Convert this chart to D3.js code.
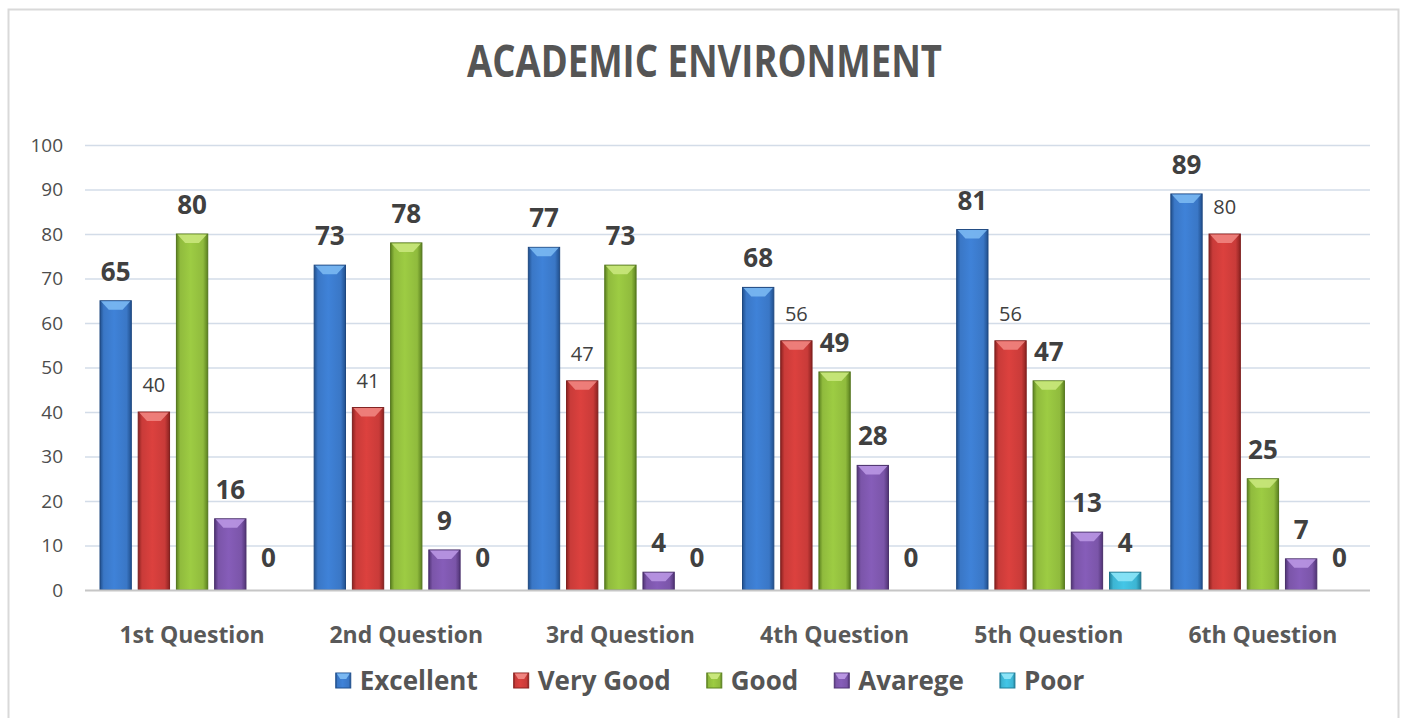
<!DOCTYPE html>
<html lang="en">
<head>
    <meta charset="UTF-8">
    <title>academic-environment</title>
    <style>
        body { margin: 0; background: #fff; }
        svg text { font-family: "Open Sans", "DejaVu Sans", sans-serif; }
    </style>
</head>
<body>
    <div id="container"></div>
    <script src="https://cdn.jsdelivr.net/npm/d3@7/dist/d3.min.js"></script>
    <script type="text/javascript">

        var categories = ["1st Question", "2nd Question", "3rd Question", "4th Question", "5th Question", "6th Question"];
        var seriesNames = ["Excellent", "Very Good", "Good", "Avarege", "Poor"];
        var excellent = [65, 73, 77, 68, 81, 89];
        var veryGood  = [40, 41, 47, 56, 56, 80];
        var good      = [80, 78, 73, 49, 47, 25];
        var avarege   = [16, 9, 4, 28, 13, 7];
        var poor      = [0, 0, 0, 0, 4, 0];
        var yTicks = [0, 10, 20, 30, 40, 50, 60, 70, 80, 90, 100];

        var seriesValues = [excellent, veryGood, good, avarege, poor];

        // colours: main, dark edge, light top
        var colors = {
            "Excellent": ["#3a77c6", "#21508e", "#7ab8f2"],
            "Very Good": ["#c93b39", "#8c2321", "#f08480"],
            "Good":      ["#90bb3d", "#5c8220", "#c9e77c"],
            "Avarege":   ["#7b55a9", "#513476", "#b996e3"],
            "Poor":      ["#3db5d3", "#21809b", "#8ce4f7"]
        };

        var width = 1406, height = 718;
        var plot = {left: 85, right: 1370, top: 145, bottom: 590};

        var svg = d3.select("#container").append("svg")
            .attr("width", width)
            .attr("height", height);

        var defs = svg.append("defs");
        seriesNames.forEach(function(s, i) {
            var c = colors[s];
            var g = defs.append("linearGradient")
                .attr("id", "grad" + i)
                .attr("x1", "0%").attr("x2", "100%")
                .attr("y1", "0%").attr("y2", "0%");
            g.append("stop").attr("offset", "0%").attr("stop-color", c[1]);
            g.append("stop").attr("offset", "12%").attr("stop-color", c[0]);
            g.append("stop").attr("offset", "45%").attr("stop-color", d3.color(c[0]).brighter(0.25));
            g.append("stop").attr("offset", "85%").attr("stop-color", c[0]);
            g.append("stop").attr("offset", "100%").attr("stop-color", c[1]);
        });

        // outer border
        svg.append("rect")
            .attr("x", 8.5).attr("y", 9.5)
            .attr("width", 1390).attr("height", 740)
            .attr("fill", "none")
            .attr("stroke", "#d9d9d9")
            .attr("stroke-width", 2);

        // title
        svg.append("text")
            .attr("x", 467)
            .attr("y", 77)
            .attr("font-size", 44)
            .attr("font-weight", "bold")
            .attr("fill", "#555555")
            .attr("textLength", 475)
            .attr("lengthAdjust", "spacingAndGlyphs")
            .text("ACADEMIC ENVIRONMENT");

        var y = d3.scaleLinear()
            .domain([0, 100])
            .range([plot.bottom, plot.top]);

        var x0 = d3.scaleBand()
            .domain(categories)
            .range([plot.left, plot.right]);

        var x1 = d3.scaleBand()
            .domain(seriesNames)
            .range([15, x0.bandwidth() - 15])
            .paddingInner(0.18);

        // gridlines
        svg.append("g")
            .selectAll("line")
            .data(yTicks.slice(1))
            .enter().append("line")
            .attr("x1", plot.left).attr("x2", plot.right)
            .attr("y1", function(d) { return y(d) + 0.5; })
            .attr("y2", function(d) { return y(d) + 0.5; })
            .attr("stroke", "#d3dce8")
            .attr("stroke-width", 1.5);

        // y axis labels
        var yAxis = svg.append("g")
            .attr("transform", "translate(" + (plot.left - 22) + ",0)")
            .call(d3.axisLeft(y).tickValues(yTicks).tickSize(0).tickPadding(0));
        yAxis.select(".domain").remove();
        yAxis.selectAll("text")
            .attr("font-size", 19)
            .attr("fill", "#4d4d4d")
            .attr("font-family", "Open Sans, sans-serif");

        // bars
        var flat = [];
        categories.forEach(function(cat, ci) {
            seriesNames.forEach(function(s, si) {
                flat.push({cat: cat, series: s, si: si, value: seriesValues[si][ci]});
            });
        });

        var groups = svg.append("g").selectAll("g")
            .data(flat.filter(function(d) { return d.value > 0; }))
            .enter().append("g");

        groups.append("rect")
            .attr("x", function(d) { return x0(d.cat) + x1(d.series); })
            .attr("y", function(d) { return y(d.value); })
            .attr("width", x1.bandwidth())
            .attr("height", function(d) { return y(0) - y(d.value); })
            .attr("fill", function(d) { return "url(#grad" + d.si + ")"; })
            .attr("stroke", function(d) { return d3.color(colors[d.series][1]).darker(0.3); })
            .attr("stroke-width", 1);

        // top bevel
        groups.append("path")
            .attr("d", function(d) {
                var bx = x0(d.cat) + x1(d.series), bw = x1.bandwidth(), by = y(d.value);
                var bh = Math.min(9, (y(0) - by) * 0.6);
                return "M" + (bx + 1) + "," + (by + 0.5) +
                       "L" + (bx + bw - 1) + "," + (by + 0.5) +
                       "L" + (bx + bw * 0.72) + "," + (by + bh) +
                       "L" + (bx + bw * 0.28) + "," + (by + bh) + "Z";
            })
            .attr("fill", function(d) { return colors[d.series][2]; })
            .attr("opacity", 0.9);

        // baseline
        svg.append("line")
            .attr("x1", plot.left).attr("x2", plot.right)
            .attr("y1", y(0) + 0.5).attr("y2", y(0) + 0.5)
            .attr("stroke", "#c6c6c6")
            .attr("stroke-width", 2);

        // value labels
        svg.append("g").selectAll("text")
            .data(flat)
            .enter().append("text")
            .attr("x", function(d) { return x0(d.cat) + x1(d.series) + x1.bandwidth() / 2; })
            .attr("y", function(d) { return y(d.value) - (d.value === 0 ? 23 : 20); })
            .attr("text-anchor", "middle")
            .attr("font-size", function(d) { return d.series === "Very Good" ? 20 : 26; })
            .attr("font-weight", function(d) { return d.series === "Very Good" ? "normal" : "bold"; })
            .attr("fill", "#404040")
            .text(function(d) { return d.value; });

        // category labels
        svg.append("g").selectAll("text")
            .data(categories)
            .enter().append("text")
            .attr("x", function(d) { return x0(d) + x0.bandwidth() / 2; })
            .attr("y", 643)
            .attr("text-anchor", "middle")
            .attr("font-size", 23)
            .attr("font-weight", "bold")
            .attr("fill", "#595959")
            .text(function(d) { return d; });

        // legend
        var legend = svg.append("g");
        var items = legend.selectAll("g")
            .data(seriesNames)
            .enter().append("g");

        items.append("rect")
            .attr("width", 15).attr("height", 15)
            .attr("y", 673)
            .attr("fill", function(d, i) { return "url(#grad" + i + ")"; })
            .attr("stroke", function(d) { return colors[d][1]; });

        items.append("path")
            .attr("d", "M1,673.5L14,673.5L10.5,679L4.5,679Z")
            .attr("fill", function(d) { return colors[d][2]; });

        items.append("text")
            .attr("x", 24)
            .attr("y", 690)
            .attr("font-size", 26)
            .attr("font-weight", "bold")
            .attr("fill", "#555555")
            .text(function(d) { return d; });

        var gap = 36;
        var pos = 0, offsets = [];
        items.each(function() {
            offsets.push(pos);
            var tw = d3.select(this).select("text").node().getComputedTextLength();
            pos += 24 + tw + gap;
        });
        var total = pos - gap;
        var start = 710 - total / 2;
        items.attr("transform", function(d, i) { return "translate(" + (start + offsets[i]) + ",0)"; });

    </script>
</body>
</html>
